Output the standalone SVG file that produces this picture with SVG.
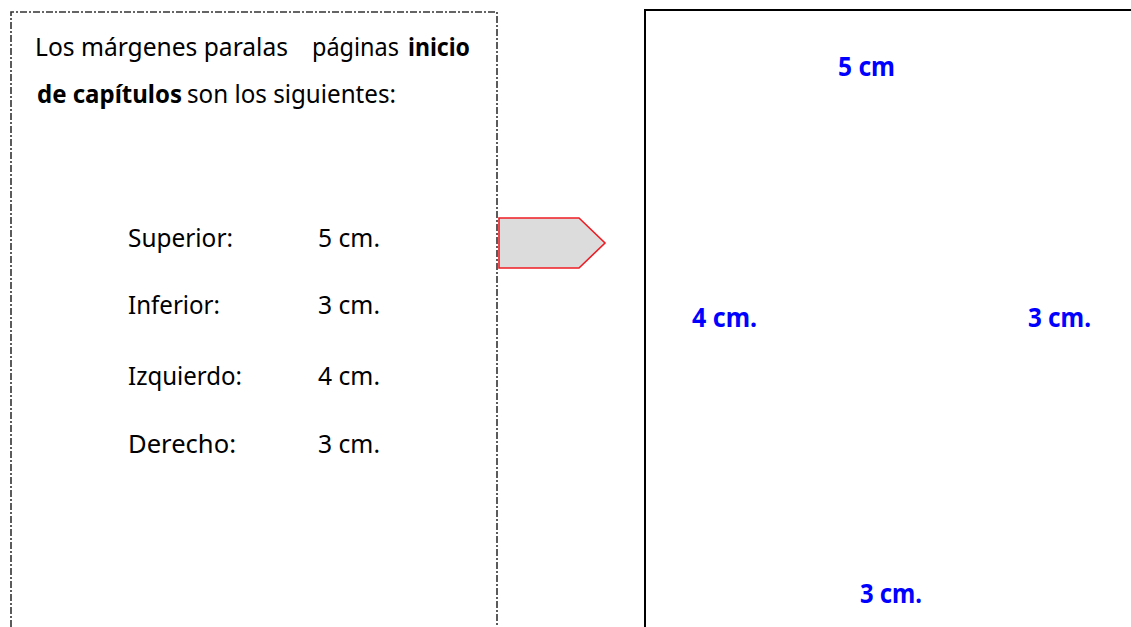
<svg xmlns="http://www.w3.org/2000/svg" width="1131" height="627" viewBox="0 0 1131 627">
<style>
.t{font-family:"Noto Sans","Liberation Sans",sans-serif;font-size:25px;fill:#000}
.b{font-weight:bold}
.bl{font-family:"Noto Sans","Liberation Sans",sans-serif;font-size:26px;font-weight:bold;fill:#0000ff}
</style>
<rect width="1131" height="627" fill="#fff"/>
<g id="textbox">
<path d="M11,640 V12 H497 V640" fill="none" stroke="#333" stroke-width="1.6" stroke-dasharray="7,2,2,2"/>
<text class="t" x="35" y="56" textLength="253" lengthAdjust="spacingAndGlyphs">Los márgenes paralas</text>
<text class="t" x="312" y="56" textLength="87" lengthAdjust="spacingAndGlyphs">páginas</text>
<text class="t b" x="408" y="56" textLength="62" lengthAdjust="spacingAndGlyphs">inicio</text>
<text class="t b" x="37" y="103" textLength="145" lengthAdjust="spacingAndGlyphs">de capítulos</text>
<text class="t" x="187" y="103" textLength="209" lengthAdjust="spacingAndGlyphs">son los siguientes:</text>
<text class="t" x="128" y="247" textLength="105" lengthAdjust="spacingAndGlyphs">Superior:</text>
<text class="t" x="318" y="247" textLength="62" lengthAdjust="spacingAndGlyphs">5 cm.</text>
<text class="t" x="128" y="314" textLength="92" lengthAdjust="spacingAndGlyphs">Inferior:</text>
<text class="t" x="318" y="314" textLength="62" lengthAdjust="spacingAndGlyphs">3 cm.</text>
<text class="t" x="128" y="385" textLength="114" lengthAdjust="spacingAndGlyphs">Izquierdo:</text>
<text class="t" x="318" y="385" textLength="62" lengthAdjust="spacingAndGlyphs">4 cm.</text>
<text class="t" x="128" y="453" textLength="108" lengthAdjust="spacingAndGlyphs">Derecho:</text>
<text class="t" x="318" y="453" textLength="62" lengthAdjust="spacingAndGlyphs">3 cm.</text>
</g>
<g id="connectors">
<polygon points="499,218 579,218 605,243 579,268 499,268" fill="#dcdcdc" stroke="#ee1c24" stroke-width="1.6"/>
</g>
<g id="page">
<path d="M645,640 V10 H1140" fill="none" stroke="#000" stroke-width="2"/>
<text class="bl" x="838" y="76" textLength="57" lengthAdjust="spacingAndGlyphs">5 cm</text>
<text class="bl" x="692" y="327" textLength="65" lengthAdjust="spacingAndGlyphs">4 cm.</text>
<text class="bl" x="1028" y="327" textLength="63" lengthAdjust="spacingAndGlyphs">3 cm.</text>
<text class="bl" x="860" y="603" textLength="62" lengthAdjust="spacingAndGlyphs">3 cm.</text>
</g>
</svg>
